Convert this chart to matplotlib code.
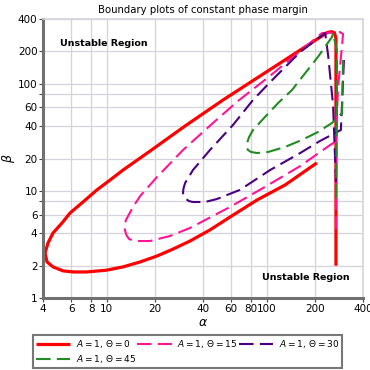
import matplotlib.pyplot as plt

# boundary curves (alpha, beta), one per phase margin
red_alpha = [206, 130, 87.0, 59.0, 44.2, 33.2, 26.0, 20.6, 16.2, 12.65, 10.05, 7.54, 6.16, 5.34,
             4.62, 4.24, 4.12, 4.30, 4.62, 5.26, 5.90, 7.11, 8.70, 10.5, 12.65, 18.7, 30.9,
             53.3, 240, 255, 265, 271, 271]
red_beta = [18.2, 11.3, 8.20, 5.69, 4.31, 3.40, 2.86, 2.46, 2.17, 1.95, 1.82, 1.75, 1.75, 1.79,
            1.95, 2.17, 2.63, 3.26, 4.04, 5.01, 6.2, 7.86, 10.2, 12.6, 15.6, 23.5, 40.2,
            70.2, 300, 305, 298, 265, 2.0]

pink_alpha = [267, 249, 162, 102, 59.0, 33.2, 24.9, 18.7, 15.0, 13.8, 13.3, 13.0, 12.95, 13.2,
              14.6, 16.2, 20.6, 30.0, 46.2, 66.2, 105, 162, 222, 287, 300, 296, 279, 271, 271]
pink_beta = [28.5, 26.7, 17.0, 11.3, 7.06, 4.50, 3.79, 3.40, 3.40, 3.55, 3.85, 4.31, 4.75, 5.34,
             7.06, 8.94, 13.4, 24.0, 42.9, 68.8, 118, 201, 296, 302, 290, 229, 90.9, 29.8, 4.40]

purple_alpha = [304, 291, 215, 162, 105, 68.1, 48.9, 41.2, 34.6, 32.8, 31.3, 30.4, 30.0, 30.2,
                30.9, 34.6, 44.2, 61.6, 82.1, 105, 162, 232, 242, 260, 271]
purple_beta = [166, 36.9, 29.1, 22.5, 15.6, 10.2, 8.38, 7.86, 7.86, 8.0, 8.38, 8.8, 9.53, 10.5,
               11.8, 15.6, 24.0, 41.1, 70.2, 103, 197, 296, 185, 63.1, 12.0]

green_alpha = [300, 296, 256, 209, 166, 130, 102, 87.0, 80.0, 76.4, 75.2, 75.4, 77.5, 82.1, 97.6,
               118, 144, 174, 209, 256, 260, 275, 275, 271]
green_beta = [166, 53.1, 42.9, 35.3, 29.8, 25.6, 23.0, 22.5, 23.0, 24.0, 25.5, 27.9, 31.5, 36.9,
              48.8, 65.9, 87.1, 125, 177, 272, 296, 201, 63.1, 8.56]

thetas = [0, 15, 30, 45]
xticks = [4, 6, 8, 10, 20, 40, 60, 80, 100, 200, 400]
yticks = [1, 2, 4, 6, 8, 10, 20, 40, 60, 80, 100, 200, 400]
ytick_labels = ['1', '2', '4', '6', '', '10', '20', '40', '60', '', '100', '200', '400']

fig = plt.figure(figsize=(3.7, 3.7), dpi=100)
ax = fig.add_axes([0.1162, 0.1946, 0.8649, 0.754])

dash = (0, (7, 3))
l0, = ax.plot(red_alpha, red_beta, color='#ff0000', lw=2.3, solid_capstyle='butt')
l1, = ax.plot(pink_alpha, pink_beta, color='#ff1493', lw=1.5, linestyle=dash)
l2, = ax.plot(purple_alpha, purple_beta, color='#4b0082', lw=1.5, linestyle=dash)
l3, = ax.plot(green_alpha, green_beta, color='#228b22', lw=1.5, linestyle=dash)

ax.set_xscale('log')
ax.set_yscale('log')
ax.set_xlim(4, 400)
ax.set_ylim(1, 400)
ax.set_xticks(xticks)
ax.set_xticklabels([str(t) for t in xticks])
ax.set_yticks(yticks)
ax.set_yticklabels(ytick_labels)
ax.minorticks_off()
ax.tick_params(labelsize=7.5, length=3, width=0.8, color='#444444', pad=1)
ax.grid(True, color='#d6d2dc', lw=0.9)
ax.set_axisbelow(True)

for side in ['left', 'bottom']:
    ax.spines[side].set_color('#707070')
    ax.spines[side].set_linewidth(2.2)
for side in ['top', 'right']:
    ax.spines[side].set_color('#d6d2dc')
    ax.spines[side].set_linewidth(1.2)

ax.set_title('Boundary plots of constant phase margin', fontsize=7.3, pad=4)
ax.set_xlabel(r'$\alpha$', fontsize=9, labelpad=2)
ax.set_ylabel(r'$\beta$', fontsize=9, labelpad=0.5)

ax.text(5.1, 234, 'Unstable Region', fontsize=6.8, fontweight='bold', va='center')
ax.text(93.5, 1.54, 'Unstable Region', fontsize=6.8, fontweight='bold', va='center')

labels = [r'$A=1,\,\Theta=%d$' % t for t in thetas]
handles = [l0, l3, l1, l2]
hlabels = [labels[0], labels[3], labels[1], labels[2]]
leg = fig.legend(handles, hlabels, loc='upper left', bbox_to_anchor=(0.089, 0.0946),
                 ncol=3, fontsize=6.5, frameon=True, fancybox=False, framealpha=1,
                 handlelength=3.8, handletextpad=0.6, columnspacing=0.15,
                 borderpad=0.35, labelspacing=0.3, borderaxespad=0)
leg.get_frame().set_edgecolor('#777777')
leg.get_frame().set_linewidth(1.5)

fig.savefig('out.png', dpi=100)
